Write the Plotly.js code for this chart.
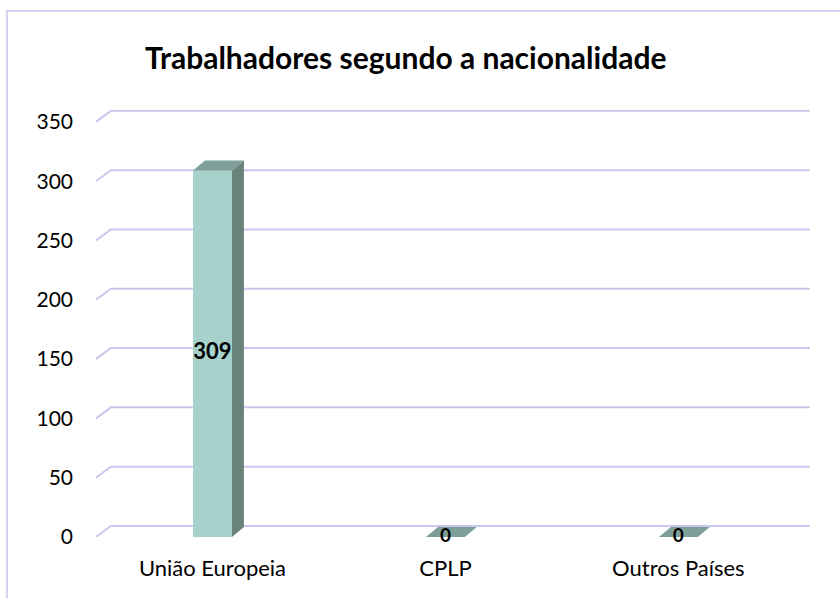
<!DOCTYPE html>
<html>
<head>
<meta charset="utf-8">
<script src="https://cdn.plot.ly/plotly-3.0.1.min.js"></script>
<style>
    body { margin: 0; background: white; }
    #wrap { position: relative; width: 840px; height: 598px; overflow: hidden; }
    #plotDiv { position: absolute; left: 0; top: 0; width: 840px; height: 598px; }
    #frame {
        position: absolute; left: 6px; top: 10px; width: 900px; height: 700px;
        border-left: 2px solid #d5d1ef; border-top: 2px solid #d5d1ef;
        pointer-events: none;
    }
</style>
</head>
<body>
<div id="wrap">
    <div id="plotDiv"></div>
    <div id="frame"></div>
</div>
<script>
var categories = ['União Europeia', 'CPLP', 'Outros Países'];
var workers = [309, 0, 0];
var yTicks = [0, 50, 100, 150, 200, 250, 300, 350];

function drawPlot() {
    let xs = categories.map((c, i) => i);
    let barW = 0.167;
    // 3d depth, in axis units
    let dx = 0.0515, dy = 8.4;     // bar depth
    let gdx = 0.064, gdy = 9.3;    // back wall offset for gridlines

    let data = [{
        type: 'bar',
        x: xs,
        y: workers,
        width: barW,
        marker: { color: '#a7d1cb', line: { width: 0 } },
        hoverinfo: 'skip'
    }];

    // side and top faces of each bar
    for (let i = 0; i < xs.length; i++) {
        let x0 = xs[i] - barW / 2, x1 = xs[i] + barW / 2, v = workers[i];
        if (v > 0) {
            data.push({
                type: 'scatter', mode: 'lines', fill: 'toself',
                x: [x1, x1, x1 + dx, x1 + dx, x1],
                y: [0, v, v + dy, dy, 0],
                fillcolor: '#68827c', line: { width: 0 }, hoverinfo: 'skip'
            });
        }
        data.push({
            type: 'scatter', mode: 'lines', fill: 'toself',
            x: [x0, x1, x1 + dx, x0 + dx, x0],
            y: [v, v, v + dy, v + dy, v],
            fillcolor: '#7e9f98', line: { width: 0 }, hoverinfo: 'skip'
        });
    }

    // value labels
    data.push({
        type: 'scatter', mode: 'text',
        x: xs,
        y: workers.map(v => v / 2),
        text: workers.map(String),
        textposition: 'middle center',
        textfont: { family: 'Lato', size: workers.map(v => v > 0 ? 22 : 19), color: '#000', weight: 'bold' },
        cliponaxis: false,
        hoverinfo: 'skip'
    });

    // gridlines drawn on the back wall
    let shapes = [];
    yTicks.forEach(v => {
        shapes.push({
            type: 'path', layer: 'below', xref: 'x', yref: 'y',
            path: 'M' + (-0.5) + ',' + v + ' L' + (-0.5 + gdx) + ',' + (v + gdy) + ' L2.565,' + (v + gdy),
            line: { color: '#cbc7ec', width: 2 }
        });
    });

    let layout = {
        autosize: false,
        width: 840,
        height: 598,
        margin: { l: 96, r: 30, t: 110, b: 61 },
        paper_bgcolor: 'white',
        plot_bgcolor: 'white',
        showlegend: false,
        font: { family: 'Lato', color: '#000' },
        title: {
            text: '<b>Trabalhadores segundo a nacionalidade</b>',
            font: { family: 'Lato', size: 30, color: '#000' },
            xref: 'container', yref: 'container',
            x: 0.483, y: 1 - 58 / 598,
            xanchor: 'center', yanchor: 'middle'
        },
        xaxis: {
            range: [-0.5, 2.565],
            tickvals: xs,
            ticktext: categories,
            showgrid: false, zeroline: false, showline: false,
            ticks: '',
            ticklabelstandoff: 16,
            tickfont: { family: 'Lato', size: 22, color: '#000' },
            fixedrange: true
        },
        yaxis: {
            range: [0, 360],
            tickvals: yTicks,
            showgrid: false, zeroline: false, showline: false,
            ticks: '',
            ticklabelstandoff: 22,
            tickfont: { family: 'Lato', size: 21, color: '#000' },
            fixedrange: true
        },
        shapes: shapes
    };

    Plotly.newPlot('plotDiv', data, layout, { displayModeBar: false, staticPlot: true });
}

drawPlot();
</script>
</body>
</html>
